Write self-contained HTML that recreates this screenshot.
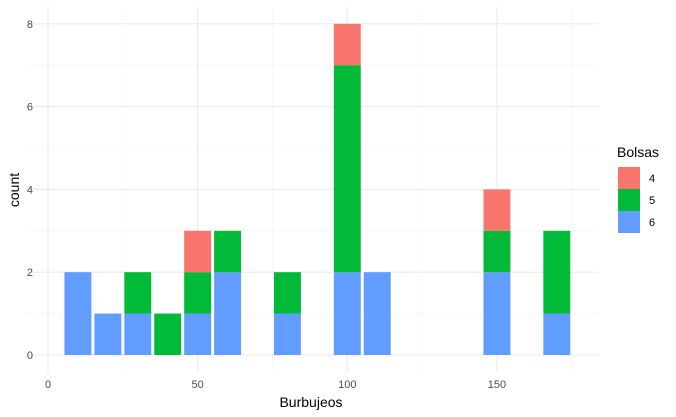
<!DOCTYPE html>
<html><head><meta charset="utf-8"><style>
body{margin:0;background:#fff;font-family:"Liberation Sans",sans-serif;}
svg{display:block}
</style></head><body>
<svg id="chart" width="676" height="417"></svg>
<script>
const centers=[10,20,30,40,50,60,80,100,110,150,170];
const count6=[2,1,1,0,1,2,1,2,2,2,1];
const count5=[0,0,1,1,1,1,1,5,0,1,2];
const count4=[0,0,0,0,1,0,0,1,0,1,0];
const xTicks=[0,50,100,150];
const yTicks=[0,2,4,6,8];
const groups=["4","5","6"];
const colors={"4":"#F8766D","5":"#00BA38","6":"#619CFF"};
const NS="http://www.w3.org/2000/svg";
const svg=document.getElementById('chart');
const X=v=>48+v*2.993;
const Y=v=>355-v*41.4;
function mk(t,a,p){const e=document.createElementNS(NS,t);for(const k in a)e.setAttribute(k,a[k]);(p||svg).appendChild(e);return e;}
const px0=26,px1=598,py0=7,py1=372;
// minor grid
for(let v=25;v<=175;v+=50){const l=mk('line',{x1:X(v),x2:X(v),y1:py0,y2:py1,stroke:'#f2f2f2','stroke-width':0.6});
}
for(let v=1;v<=7;v+=2){const l=mk('line',{x1:px0,x2:px1,y1:Y(v),y2:Y(v),stroke:'#f2f2f2','stroke-width':0.6});
}
xTicks.forEach(v=>{const l=mk('line',{x1:X(v),x2:X(v),y1:py0,y2:py1,stroke:'#ebebeb','stroke-width':1.1});

const t=mk('text',{x:X(v),y:388,'text-anchor':'middle','font-size':11,fill:'#4d4d4d'});t.textContent=v;
});
yTicks.forEach(v=>{const l=mk('line',{x1:px0,x2:px1,y1:Y(v),y2:Y(v),stroke:'#ebebeb','stroke-width':1.1});

const t=mk('text',{x:33,y:Y(v)+4,'text-anchor':'end','font-size':11,fill:'#4d4d4d'});t.textContent=v;
});
const w=9;
centers.forEach((c,i)=>{let base=0;
[["6",count6[i]],["5",count5[i]],["4",count4[i]]].forEach(([g,n])=>{if(!n)return;
const r=mk('rect',{x:X(c-w/2),width:X(c+w/2)-X(c-w/2),y:Y(base+n),height:Y(base)-Y(base+n),fill:colors[g]});
base+=n;});});
let t=mk('text',{x:311,y:407,'text-anchor':'middle','font-size':14,fill:'#000'});t.textContent='Burbujeos';

t=mk('text',{x:0,y:0,'text-anchor':'middle','font-size':14,fill:'#000',transform:'translate(19,190) rotate(-90)'});t.textContent='count';

t=mk('text',{x:617,y:157,'font-size':14,fill:'#000'});t.textContent='Bolsas';

groups.forEach((g,i)=>{const y=167+i*22;
const r=mk('rect',{x:618,y:y,width:22,height:22,fill:colors[g]});

const tt=mk('text',{x:649,y:y+15,'font-size':11,fill:'#000'});tt.textContent=g;
});
</script>
</body></html>
